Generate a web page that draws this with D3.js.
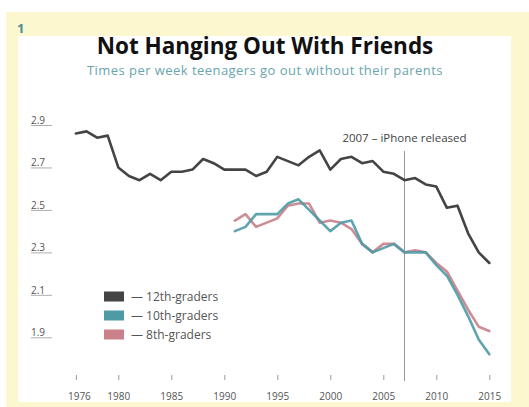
<!DOCTYPE html>
<html>
<head>
<meta charset="utf-8">
<script src="https://cdn.jsdelivr.net/npm/d3@7"></script>
<style>
  html, body { margin: 0; padding: 0; background: #ffffff; }
  svg { display: block; }
</style>
</head>
<body>
<svg id="chart" width="529" height="407"></svg>
<script>
const years12 = d3.range(1976, 2016);
const grade12 = [2.86, 2.87, 2.84, 2.85, 2.70, 2.66, 2.64, 2.67, 2.64, 2.68,
                 2.68, 2.69, 2.74, 2.72, 2.69, 2.69, 2.69, 2.66, 2.68, 2.75,
                 2.73, 2.71, 2.75, 2.78, 2.69, 2.74, 2.75, 2.72, 2.73, 2.68,
                 2.67, 2.64, 2.65, 2.62, 2.61, 2.51, 2.52, 2.39, 2.30, 2.25];
const years10 = d3.range(1991, 2016);
const grade10 = [2.40, 2.42, 2.48, 2.48, 2.48, 2.53, 2.55, 2.50, 2.45, 2.40,
                 2.44, 2.45, 2.34, 2.30, 2.32, 2.34, 2.30, 2.30, 2.30, 2.24,
                 2.19, 2.10, 2.00, 1.89, 1.82];
const years8 = d3.range(1991, 2016);
const grade8 = [2.45, 2.48, 2.42, 2.44, 2.46, 2.52, 2.53, 2.53, 2.44, 2.45,
                2.44, 2.41, 2.34, 2.30, 2.34, 2.34, 2.30, 2.31, 2.30, 2.25,
                2.21, 2.12, 2.03, 1.95, 1.93];
const yTicks = [2.9, 2.7, 2.5, 2.3, 2.1, 1.9];
const xTicks = [1976, 1980, 1985, 1990, 1995, 2000, 2005, 2010, 2015];
const seriesNames = ["12th-graders", "10th-graders", "8th-graders"];
const seriesColors = ["#444444", "#4e9ba6", "#c98088"];
const titleText = "Not Hanging Out With Friends";
const subtitleText = "Times per week teenagers go out without their parents";
const annotationYear = 2007;
const annotationText = "2007 \u2013 iPhone released";

const svg = d3.select("#chart");
const font = "'Open Sans', 'DejaVu Sans', sans-serif";

// frame
svg.append("rect").attr("x", 6).attr("y", 12).attr("width", 523).attr("height", 395).attr("fill", "#fdf7cf");
svg.append("rect").attr("x", 18).attr("y", 36).attr("width", 493).attr("height", 366).attr("fill", "#ffffff");
svg.append("text").attr("x", 17).attr("y", 33).text("1")
  .attr("font-family", font).attr("font-weight", 700).attr("font-size", 13).attr("fill", "#4a8f96");

// titles
svg.append("text").attr("x", 265).attr("y", 54).attr("text-anchor", "middle").text(titleText)
  .attr("font-family", font).attr("font-weight", 700).attr("font-size", 22.5).attr("fill", "#111");
svg.append("text").attr("x", 265).attr("y", 74.5).attr("text-anchor", "middle").text(subtitleText)
  .attr("font-family", font).attr("font-size", 13).attr("letter-spacing", 0.45).attr("fill", "#6aa5ae");

const x = d3.scaleLinear().domain([1980, 2015]).range([118.3, 489.3]);
const y = d3.scaleLinear().domain([2.9, 1.9]).range([125, 337.3]);

// y tick labels with underline
const yg = svg.append("g");
yTicks.forEach(t => {
  yg.append("text").attr("x", 31).attr("y", y(t) - 1).text(t.toFixed(1))
    .attr("font-family", font).attr("font-size", 10).attr("fill", "#555");
  yg.append("line").attr("x1", 31).attr("x2", 52).attr("y1", y(t) + 0.5).attr("y2", y(t) + 0.5)
    .attr("stroke", "#999").attr("stroke-width", 0.8);
});

// x axis ticks
const xAxis = d3.axisBottom(x).tickValues(xTicks).tickFormat(d3.format("d")).tickSize(5).tickPadding(13);
const xg = svg.append("g").attr("transform", "translate(0,375)").call(xAxis);
xg.select(".domain").remove();
xg.selectAll(".tick line").attr("stroke", "#999");
xg.selectAll(".tick text").attr("font-family", font).attr("font-size", 10).attr("fill", "#555");
xg.selectAll(".tick text").filter(d => d === 1976).attr("dx", 3);

// annotation line
svg.append("line").attr("x1", x(annotationYear)).attr("x2", x(annotationYear))
  .attr("y1", 151).attr("y2", 381).attr("stroke", "#999").attr("stroke-width", 1);
svg.append("text").attr("x", x(annotationYear)).attr("y", 142).attr("text-anchor", "middle")
  .text(annotationText).attr("font-family", font).attr("font-size", 11.5).attr("fill", "#444");

// lines
const line = d3.line().x(d => x(d[0])).y(d => y(d[1]));
const series = [
  years12.map((yr, i) => [yr, grade12[i]]),
  years10.map((yr, i) => [yr, grade10[i]]),
  years8.map((yr, i) => [yr, grade8[i]])
];
[2, 1, 0].forEach(i => {
  svg.append("path").datum(series[i]).attr("d", line).attr("fill", "none")
    .attr("stroke", seriesColors[i]).attr("stroke-width", 2.6)
    .attr("stroke-linejoin", "round").attr("stroke-linecap", "round")
    .attr("opacity", i === 0 ? 1 : 0.9);
});

// legend
const lg = svg.append("g");
seriesNames.forEach((n, i) => {
  const cy = 296.5 + i * 19;
  lg.append("rect").attr("x", 104).attr("y", cy - 5).attr("width", 20).attr("height", 10).attr("fill", seriesColors[i]);
  lg.append("text").attr("x", 131).attr("y", cy + 4).text("\u2014 " + n)
    .attr("font-family", font).attr("font-size", 12).attr("fill", "#555");
});
</script>
</body>
</html>
